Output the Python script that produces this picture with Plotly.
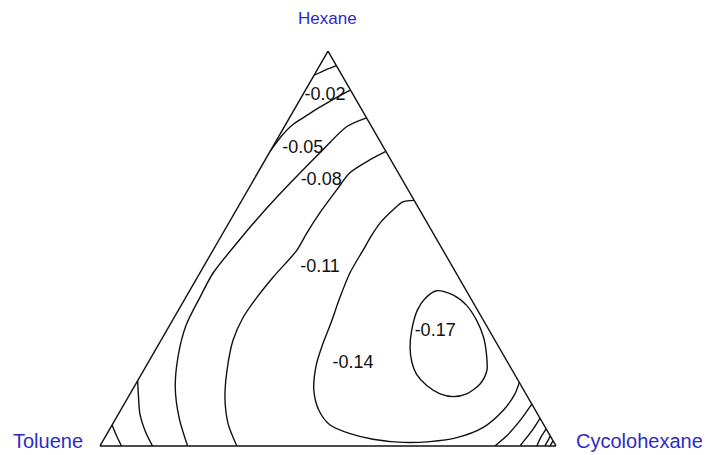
import plotly.graph_objects as go

# ternary compositions (%) along each contour line: Hexane / Toluene / Cyclohexane
# small line near the Hexane apex
c0_hex = [93.9, 95.2, 96.3]
c0_tol = [6.1, 3.0, 0.0]
c0_cyc = [0.0, 1.8, 3.7]

c1_hex = [90.1, 89.1, 87.3, 85.8, 83.7, 81.4, 78.6, 74.6]
c1_tol = [0.0, 2.2, 5.9, 8.9, 12.8, 17.0, 20.8, 25.4]
c1_cyc = [9.9, 8.7, 6.8, 5.3, 3.5, 1.6, 0.6, 0.0]

c2_hex = [83.1, 80.9, 75.1, 69.2, 63.1, 56.2, 51.7, 43.8, 37.7, 30.5, 22.9, 14.8, 7.1, 0.0]
c2_tol = [0.0, 5.4, 13.5, 21.5, 29.6, 38.4, 43.9, 53.3, 59.2, 65.9, 71.4, 76.1, 79.1, 80.8]
c2_cyc = [16.9, 13.7, 11.4, 9.3, 7.3, 5.4, 4.4, 2.9, 3.1, 3.6, 5.7, 9.1, 13.8, 19.2]

c3_hex = [74.6, 72.5, 69.2, 64.9, 59.0, 53.9, 49.6, 42.8, 37.7, 32.6, 26.7, 19.1, 12.2, 5.6, 0.0]
c3_tol = [0.0, 4.5, 10.6, 15.6, 22.3, 27.7, 32.0, 40.6, 46.7, 52.3, 57.5, 62.6, 66.5, 69.1, 70.0]
c3_cyc = [25.4, 23.0, 20.2, 19.5, 18.7, 18.4, 18.4, 16.6, 15.6, 15.1, 15.8, 18.3, 21.3, 25.3, 30.0]

c4_hex = [62.2, 61.8, 59.8, 56.5, 53.4, 49.6, 43.8, 37.7, 31.0, 25.5, 20.4, 14.0,
          8.9, 5.3, 3.1, 1.7, 0.9, 1.1, 2.1, 4.7, 8.9, 13.2, 16.1]
c4_tol = [0.0, 2.7, 5.8, 10.3, 13.7, 17.5, 23.3, 28.5, 33.9, 38.5, 42.4, 46.1,
          47.5, 46.9, 43.6, 39.3, 33.1, 27.1, 20.7, 13.6, 7.2, 2.4, 0.0]
c4_cyc = [37.8, 35.5, 34.4, 33.2, 32.9, 32.9, 32.9, 33.8, 35.1, 36.0, 37.2, 39.9,
          43.6, 47.8, 53.3, 59.0, 66.0, 71.8, 77.2, 81.7, 83.9, 84.4, 83.9]

# closed minimum loop
c5_hex = [39.3, 38.2, 35.6, 31.8, 27.6, 23.3, 19.1, 15.7, 13.2, 12.5, 13.2, 15.3,
          18.2, 21.2, 25.0, 29.3, 34.4, 37.3, 39.3]
c5_tol = [6.5, 3.4, 1.8, 1.5, 2.1, 3.6, 5.6, 8.8, 13.0, 16.3, 18.8, 20.7,
          21.5, 21.0, 19.5, 17.0, 13.2, 10.1, 6.5]
c5_cyc = [54.2, 58.4, 62.6, 66.7, 70.3, 73.1, 75.3, 75.5, 73.8, 71.2, 68.0, 64.0,
          60.3, 57.8, 55.5, 53.7, 52.4, 52.6, 54.2]

# lines near the Toluene corner
t1_hex = [5.3, 2.5, 0.0]
t1_tol = [94.7, 95.1, 95.3]
t1_cyc = [0.0, 2.4, 4.7]

t2_hex = [16.5, 13.2, 8.1, 3.8, 0.0]
t2_tol = [83.5, 85.0, 87.2, 88.2, 88.5]
t2_cyc = [0.0, 1.8, 4.7, 8.0, 11.5]

# lines near the Cyclohexane corner
k1_hex = [10.6, 6.4, 2.5, 0.0]
k1_tol = [0.0, 4.7, 9.6, 13.4]
k1_cyc = [89.4, 88.9, 87.9, 86.6]

k2_hex = [7.0, 3.8, 0.0]
k2_tol = [0.0, 3.4, 7.9]
k2_cyc = [93.0, 92.8, 92.1]

k3_hex = [4.3, 2.1, 0.0]
k3_tol = [0.0, 2.3, 4.2]
k3_cyc = [95.7, 95.6, 95.8]

k4_hex = [2.5, 0.0]
k4_tol = [0.0, 2.4]
k4_cyc = [97.5, 97.6]

k5_hex = [1.3, 0.0]
k5_tol = [0.0, 1.3]
k5_cyc = [98.7, 98.7]

# contour labels
label_text = ["-0.02", "-0.05", "-0.08", "-0.11", "-0.14", "-0.17"]
label_hex = [88.7, 75.3, 67.2, 45.3, 21.0, 29.0]
label_tol = [6.3, 17.9, 17.9, 29.1, 34.0, 12.0]
label_cyc = [5.0, 6.8, 14.9, 25.6, 45.0, 59.0]

contours = [
    (c0_hex, c0_tol, c0_cyc), (c1_hex, c1_tol, c1_cyc), (c2_hex, c2_tol, c2_cyc),
    (c3_hex, c3_tol, c3_cyc), (c4_hex, c4_tol, c4_cyc), (c5_hex, c5_tol, c5_cyc),
    (t1_hex, t1_tol, t1_cyc), (t2_hex, t2_tol, t2_cyc),
    (k1_hex, k1_tol, k1_cyc), (k2_hex, k2_tol, k2_cyc), (k3_hex, k3_tol, k3_cyc),
    (k4_hex, k4_tol, k4_cyc), (k5_hex, k5_tol, k5_cyc),
]

fig = go.Figure()

for hx, tl, cy in contours:
    fig.add_trace(go.Scatterternary(
        a=hx, b=tl, c=cy,
        mode="lines",
        line=dict(color="#111111", width=1.4, shape="spline", smoothing=0.8),
        hoverinfo="skip",
        showlegend=False,
    ))

fig.add_trace(go.Scatterternary(
    a=label_hex, b=label_tol, c=label_cyc,
    mode="text",
    text=label_text,
    textposition="middle center",
    textfont=dict(family="Liberation Sans, Arial, sans-serif", size=18, color="#111111"),
    hoverinfo="skip",
    showlegend=False,
))

axis_style = dict(
    showticklabels=False, ticks="", showgrid=False,
    linecolor="#111111", linewidth=1.4, title=dict(text=""),
    min=0,
)

title_font = dict(family="Liberation Sans, Arial, sans-serif", size=20, color="#2b2bc8")

# the page body adds an 8px offset, so positions below are shifted to compensate
fig.update_layout(
    width=710,
    height=455,
    paper_bgcolor="white",
    plot_bgcolor="white",
    margin=dict(l=0, r=0, t=0, b=0),
    showlegend=False,
    ternary=dict(
        sum=100,
        bgcolor="white",
        domain=dict(x=[0.1296, 0.7718], y=[0.0314, 0.9114]),
        aaxis=axis_style,
        baxis=axis_style,
        caxis=axis_style,
    ),
    annotations=[
        dict(text="Hexane", x=0.4493, y=1.0, xref="paper", yref="paper",
             xanchor="center", yanchor="top", borderpad=0,
             showarrow=False, font=dict(title_font, size=17)),
        dict(text="Toluene", x=0.0563, y=0.0484, xref="paper", yref="paper",
             xanchor="center", yanchor="middle",
             showarrow=False, font=title_font),
        dict(text="Cycolohexane", x=0.8894, y=0.0484, xref="paper", yref="paper",
             xanchor="center", yanchor="middle",
             showarrow=False, font=title_font),
    ],
)

fig.write_html("out.html")
